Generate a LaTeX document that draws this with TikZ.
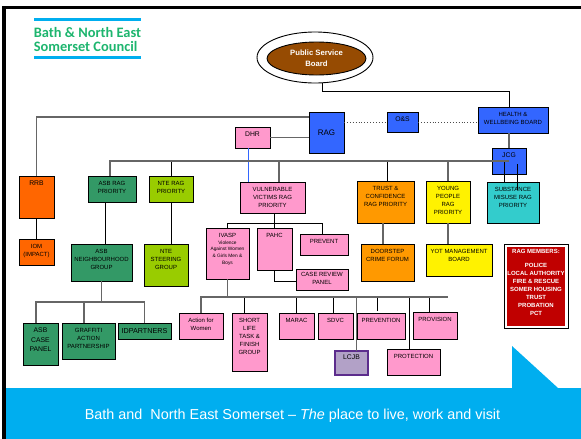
\documentclass[tikz,border=0pt]{standalone}
\usepackage{fontspec}
\setmainfont{Liberation Sans}
\newfontfamily\logofont{Carlito}
\usepackage{tikz}
\usetikzlibrary{positioning, shapes.geometric}
\definecolor{ragBlue}{RGB}{51, 102, 255}
\definecolor{ragPink}{RGB}{255, 153, 204}
\definecolor{ragGreen}{RGB}{51, 153, 102}
\definecolor{ragLime}{RGB}{153, 204, 0}
\definecolor{ragOrange}{RGB}{255, 102, 0}
\definecolor{ragAmber}{RGB}{255, 153, 0}
\definecolor{ragTeal}{RGB}{51, 204, 204}
\definecolor{ragBrown}{RGB}{150, 75, 2}
\definecolor{ragLilac}{RGB}{178, 161, 199}
\definecolor{ragPurple}{RGB}{92, 44, 140}
\definecolor{ragRed}{RGB}{192, 0, 0}
\definecolor{bandBlue}{RGB}{0, 174, 239}
\definecolor{logoGreen}{RGB}{29, 181, 110}
\tikzset{
    org_box/.style={
        draw=black,
        line width=0.9pt,
        outer sep=0pt,
        inner sep=0pt
    },
    org_label/.style={
        anchor=north,
        align=center,
        inner sep=5pt,
        font=\fontsize{6}{8}\selectfont
    },
    org_label_big/.style={
        org_label,
        font=\fontsize{6.8}{8}\selectfont
    },
    org_edge/.style={
        draw=black,
        line width=0.8pt
    },
    org_trunk/.style={
        draw=black!60,
        line width=1.2pt
    },
    org_dots/.style={
        draw=black!70,
        line width=0.9pt,
        dotted
    }
}
\newcommand{\ivaspFont}{\fontsize{4.8}{6.7}\selectfont}
\begin{document}
\begin{tikzpicture}[x=1pt, y=-1pt]
    \useasboundingbox (0,0) rectangle (581,439);

    \fill[black] (2,6) rectangle (581,9);
    \fill[black] (2,6) rectangle (6,439);
    \fill[bandBlue] (6,388) rectangle (581,439);
    \fill[bandBlue] (512,346) -- (512,388) -- (558,388) -- cycle;
    \fill[bandBlue] (34,18) rectangle (141,21);
    \fill[bandBlue] (34,56) rectangle (141,59);
    \node[text=logoGreen, align=left, inner sep=0pt, font=\logofont\bfseries\fontsize{14.4}{14}\selectfont] (logo) at (87.5,39.5) {Bath \& North East\\Somerset Council};
    \node[text=white, inner sep=0pt, font=\fontsize{14.4}{17}\selectfont] (tagline) at (292.5,416) {Bath and\ \ North East Somerset -- \textit{The} place to live, work and visit};

    \node[ellipse, draw=black, line width=0.9pt, fill=white, outer sep=0pt, minimum width=116, minimum height=51] (board_outer) at (315,57.5) {};
    \node[ellipse, draw=black, line width=0.9pt, fill=ragBrown, text=white, align=center, inner sep=0pt, minimum width=99, minimum height=33, font=\bfseries\fontsize{7.7}{11}\selectfont] (board) at (316.5,58.5) {\raisebox{-1.5pt}{Public Service}\\\raisebox{-1.5pt}{Board}};

    \node[org_box, fill=ragBlue, minimum width=70, minimum height=26, label={[org_label]north:HEALTH \&\\WELLBEING BOARD}] (hwb) at (513,120) {};
    \node[org_box, fill=ragBlue, minimum width=35, minimum height=41, font=\fontsize{8}{10}\selectfont] (rag) at (326.5,132.5) {RAG};
    \node[org_box, fill=ragBlue, minimum width=31, minimum height=20, label={[org_label_big]north:O\&S}] (os) at (402.5,122) {};
    \node[org_box, fill=ragPink, minimum width=35, minimum height=21, label={[org_label_big]north:DHR}] (dhr) at (252.5,137.5) {};
    \node[org_box, fill=ragBlue, minimum width=34, minimum height=26, label={[org_label_big]north:JCG}] (jcg) at (509,161) {};

    \node[org_box, fill=ragOrange, minimum width=35, minimum height=42, label={[org_label_big]north:RRB}] (rrb) at (36.5,197) {};
    \node[org_box, fill=ragGreen, minimum width=48, minimum height=26, label={[org_label]north:ASB RAG\\PRIORITY}] (asbrag) at (112,189) {};
    \node[org_box, fill=ragLime, minimum width=44, minimum height=26, label={[org_label]north:NTE RAG\\PRIORITY}] (nterag) at (171,189) {};
    \node[org_box, fill=ragPink, minimum width=65, minimum height=31, label={[org_label]north:VULNERABLE\\VICTIMS RAG\\PRIORITY}] (vv) at (272.5,197.5) {};
    \node[org_box, fill=ragAmber, minimum width=57, minimum height=42, label={[org_label]north:TRUST \&\\CONFIDENCE\\RAG PRIORITY}] (trust) at (385.5,202) {};
    \node[org_box, fill=yellow, minimum width=44, minimum height=42, label={[org_label]north:YOUNG\\PEOPLE\\RAG\\PRIORITY}] (young) at (448,202) {};
    \node[org_box, fill=ragTeal, minimum width=52, minimum height=41, label={[org_label]north:SUBSTANCE\\MISUSE RAG\\PRIORITY}] (sub) at (513,202.5) {};

    \node[org_box, fill=ragOrange, minimum width=35, minimum height=26, label={[org_label]north:IOM\\(IMPACT)}] (iom) at (36.5,252) {};
    \node[org_box, fill=ragGreen, minimum width=61, minimum height=37, label={[org_label]north:ASB\\NEIGHBOURHOOD\\GROUP}] (asbn) at (101.5,262.5) {};
    \node[org_box, fill=ragLime, minimum width=44, minimum height=42, label={[org_label]north:NTE\\STEERING\\GROUP}] (ntes) at (166,265) {};
    \node[org_box, fill=ragPink, minimum width=43, minimum height=51, label={[org_label]north:IVASP\\[-1.3pt]\ivaspFont Violence\\[-1.3pt]\ivaspFont Against Women\\[-1.3pt]\ivaspFont \& Girls Men \&\\[-1.3pt]\ivaspFont Boys}] (ivasp) at (227.5,253.5) {};
    \node[org_box, fill=ragPink, minimum width=35, minimum height=42, label={[org_label]north:PAHC}] (pahc) at (274.5,249) {};
    \node[org_box, fill=ragPink, minimum width=48, minimum height=21, label={[org_label]north:PREVENT}] (prevent) at (324,244.5) {};
    \node[org_box, fill=ragPink, minimum width=52, minimum height=21, label={[org_label, inner sep=3pt]north:CASE REVIEW\\PANEL}] (casereview) at (322,279.5) {};
    \node[org_box, fill=ragAmber, minimum width=53, minimum height=37, label={[org_label]north:DOORSTEP\\CRIME FORUM}] (doorstep) at (387.5,262.5) {};
    \node[org_box, fill=yellow, minimum width=66, minimum height=32, label={[org_label]north:YOT MANAGEMENT\\BOARD}] (yot) at (459,260) {};

    \node[org_box, fill=white, minimum width=64, minimum height=84] (members_outer) at (536,286) {};
    \node[fill=ragRed, text=white, outer sep=0pt, inner sep=0pt, minimum width=58, minimum height=79, label={[org_label, text=white, inner sep=2.5pt, font=\bfseries\fontsize{6}{8}\selectfont]north:RAG MEMBERS:\\[6pt]POLICE\\LOCAL AUTHORITY\\FIRE \& RESCUE\\SOMER HOUSING\\TRUST\\PROBATION\\PCT}] (members) at (536,286.5) {};

    \node[org_box, fill=ragGreen, minimum width=35, minimum height=42, label={[org_label_big, font=\fontsize{6.8}{9.5}\selectfont]north:ASB\\CASE\\PANEL}] (casepanel) at (40.5,344) {};
    \node[org_box, fill=ragGreen, minimum width=53, minimum height=36, label={[org_label]north:GRAFFITI\\ACTION\\PARTNERSHIP}] (graffiti) at (88.5,341) {};
    \node[org_box, fill=ragGreen, minimum width=53, minimum height=16, font=\fontsize{7.2}{9}\selectfont] (idpartners) at (144.5,331) {IDPARTNERS};
    \node[org_box, fill=ragPink, minimum width=44, minimum height=26, label={[org_label]north:Action for\\Women}] (action) at (201,326) {};
    \node[org_box, fill=ragPink, minimum width=35, minimum height=58, label={[org_label]north:SHORT\\LIFE\\TASK \&\\FINISH\\GROUP}] (shortlife) at (249.5,342) {};
    \node[org_box, fill=ragPink, minimum width=35, minimum height=26, label={[org_label]north:MARAC}] (marac) at (296.5,326) {};
    \node[org_box, fill=ragPink, minimum width=35, minimum height=26, label={[org_label]north:SDVC}] (sdvc) at (335.5,326) {};
    \node[org_box, fill=ragPink, minimum width=48, minimum height=26, label={[org_label]north:PREVENTION}] (prevention) at (381,326) {};
    \node[org_box, fill=ragPink, minimum width=44, minimum height=27, label={[org_label]north:PROVISION}] (provision) at (435,325.5) {};
    \node[org_box, draw=ragPurple, line width=2.2pt, fill=ragLilac, minimum width=33, minimum height=24, label={[org_label_big, inner sep=4pt]north:LCJB}] (lcjb) at (351.5,363) {};
    \node[org_box, fill=ragPink, minimum width=53, minimum height=26, label={[org_label]north:PROTECTION}] (protection) at (413.5,362) {};

    \coordinate (bus_board) at (509,91);
    \coordinate (bus_main) at (279,161);
    \coordinate (bus_asb) at (101.5,302);
    \coordinate (bus_vv) at (274.5,223);
    \coordinate (bus_low) at (356.5,297);
    \coordinate (bus_low_end) at (448,297);

    \draw[org_trunk] (rrb.north) |- ([yshift=-5pt]rag.north west);
    \draw[org_trunk] (dhr.east) -- (dhr.east -| rag.west);
    \draw[org_edge] ([xshift=7pt]board_outer.south) |- (bus_board) -- ([xshift=-4pt]hwb.north);
    \draw[org_dots] (os.west -| rag.east) -- (os.west);
    \draw[org_dots] (os.east) -- (os.east -| hwb.west);
    \draw[org_trunk] ([xshift=-4pt]hwb.south) -- (jcg.north);
    \draw[draw=ragBlue, line width=0.6pt] ([xshift=-4.5pt]dhr.south) -- ([xshift=-4.5pt]dhr.south |- vv.north);

    \draw[org_edge]
        (nterag.north) -- (nterag.north |- bus_main)
        ([xshift=2pt]trust.north) -- ([xshift=2pt]trust.north |- bus_main)
        ([xshift=-8.5pt]sub.north) |- (bus_main)
        ([xshift=4pt,yshift=12.5pt]sub.center) -- ([xshift=8pt,yshift=-3pt]jcg.center);
    \draw[org_trunk]
        ([xshift=-2pt]asbrag.north) |- (bus_main) -- (bus_main -| jcg.center)
        (bus_main) -- (bus_main |- vv.north)
        (young.north) -- (young.north |- bus_main);

    \draw[org_edge]
        (rrb) -- (iom)
        ([xshift=-6.5pt]asbrag.south) -- ([xshift=-6.5pt]asbrag.south |- asbn.north)
        (nterag.south) -- (nterag.south |- ntes.north)
        ([xshift=2pt]vv.south) -- (bus_vv)
        (ivasp.north) |- (bus_vv)
        (pahc.north) -- (bus_vv)
        ([xshift=-1.5pt]prevent.north) |- (bus_vv)
        (pahc.south) |- ([yshift=-1.5pt]casereview.west);
    \draw[org_trunk]
        ([xshift=-2.5pt]trust.south) -- ([xshift=-2.5pt]trust.south |- doorstep.north)
        (young.south) -- (young.south |- yot.north);

    \draw[org_trunk]
        (asbn.south) -- (bus_asb)
        ([xshift=-4.5pt]casepanel.north) |- (bus_asb)
        ([xshift=-4.5pt]graffiti.north) -- ([xshift=-4.5pt]graffiti.north |- bus_asb)
        (idpartners.north) |- (bus_asb);

    \draw[org_edge]
        ([xshift=-5pt]shortlife.north) -- ([xshift=-5pt]shortlife.north |- bus_low)
        (marac.north) -- (marac.north |- bus_low)
        ([xshift=-2pt]sdvc.north) -- ([xshift=-2pt]sdvc.north |- bus_low)
        ([xshift=-4pt,yshift=2pt]prevention.north) -- ([xshift=-4pt]prevention.north |- bus_low)
        ([xshift=-4pt]protection.north) -- ([xshift=-4pt]protection.north |- bus_low)
        ([xshift=-6pt]provision.north) -- ([xshift=-6pt]provision.north |- bus_low);
    \draw[org_trunk]
        (ivasp.south) -- (ivasp.south |- bus_low)
        (action.north) |- (bus_low) -- (bus_low_end)
        ([xshift=5pt]lcjb.north) -- ([xshift=5pt]lcjb.north |- bus_low);
\end{tikzpicture}
\end{document}
